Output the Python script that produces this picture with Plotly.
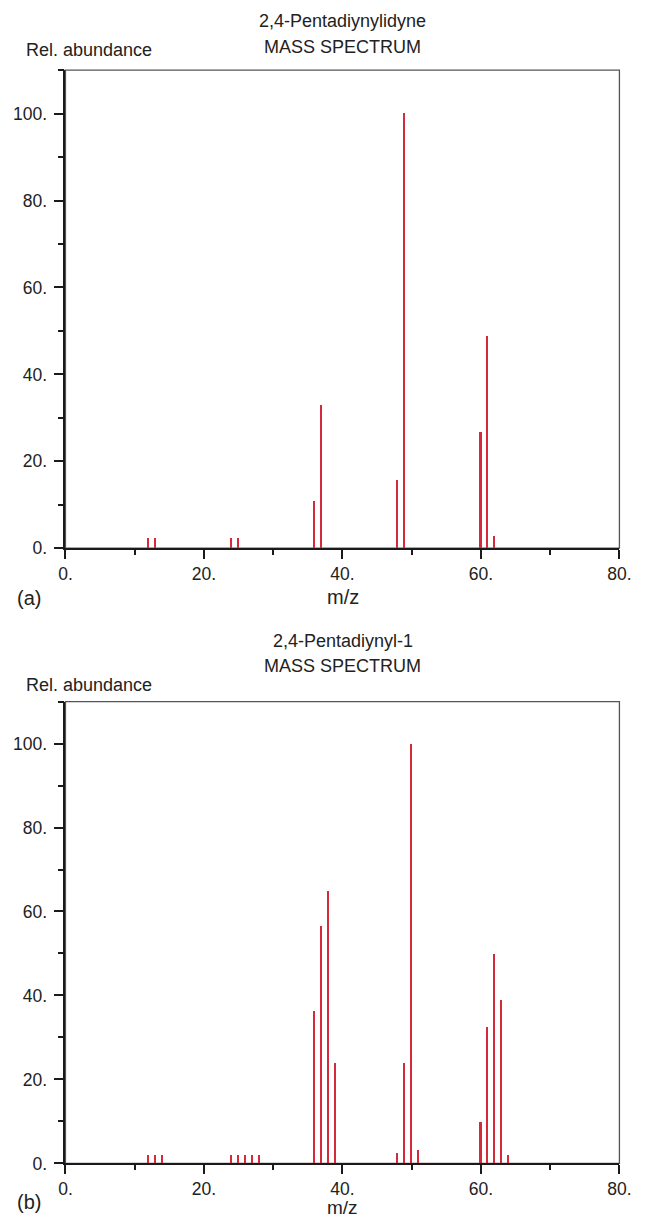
import plotly.graph_objects as go

# panel (a): 2,4-Pentadiynylidyne
mz_a = [12, 13, 24, 25, 36, 37, 48, 49, 60, 61, 62]
ab_a = [2.4, 2.4, 2.4, 2.4, 10.9, 32.9, 15.6, 100, 26.8, 48.7, 2.7]

# panel (b): 2,4-Pentadiynyl-1
mz_b = [12, 13, 14, 24, 25, 26, 27, 28, 36, 37, 38, 39, 48, 49, 50, 51, 60, 61, 62, 63, 64]
ab_b = [2.1, 2.1, 2.1, 2.1, 2.1, 2.1, 2.1, 2.1, 36.5, 56.7, 65.1, 24.1,
        2.5, 24.0, 100, 3.3, 9.9, 32.6, 49.9, 39.1, 2.1]

x_ticks = [0, 20, 40, 60, 80]
x_labels = ["0.", "20.", "40.", "60.", "80."]
y_ticks = [0, 20, 40, 60, 80, 100]
y_labels = ["0.", "20.", "40.", "60.", "80.", "100."]

red = "#d42a3c"
font = "Liberation Sans, Arial, sans-serif"

# the page body has an 8px margin, so the figure is drawn 8px smaller and
# positions below are given in window pixels
OFF = 8
W, H = 645 - OFF, 1225 - OFF


def px(x):
    return (x - OFF) / W


def py(y):
    return 1 - (y - OFF) / H


fig = go.Figure()
fig.add_trace(go.Bar(x=mz_a, y=ab_a, width=0.3, marker=dict(color=red, line_width=0),
                     xaxis="x", yaxis="y", showlegend=False))
fig.add_trace(go.Bar(x=mz_b, y=ab_b, width=0.3, marker=dict(color=red, line_width=0),
                     xaxis="x2", yaxis="y2", showlegend=False))

xdom = [px(60), px(631)]
ax_common = dict(showline=True, linecolor="#1a1a1a", linewidth=1.8, mirror=False,
                 showgrid=False, zeroline=False, ticks="outside", ticklen=10,
                 tickwidth=1.5, tickcolor="#1a1a1a", ticklabeloverflow="allow",
                 tickfont=dict(family=font, size=17.5, color="#222"))

xa = dict(ax_common, range=[0, 80], tickvals=x_ticks, ticktext=x_labels, ticklen=9,
          minor=dict(dtick=10, ticks="outside", ticklen=5, tickwidth=1.5, tickcolor="#1a1a1a"))
ya = dict(ax_common, range=[0, 110], tickvals=y_ticks, ticktext=y_labels, ticklabelstandoff=3,
          minor=dict(dtick=10, ticks="outside", ticklen=6, tickwidth=1.5, tickcolor="#1a1a1a"))

fig.update_layout(
    width=W, height=H,
    margin=dict(l=0, r=0, t=0, b=0),
    plot_bgcolor="white", paper_bgcolor="white",
    bargap=0,
    xaxis=dict(xa, domain=xdom, anchor="y"),
    yaxis=dict(ya, domain=[py(552.7), py(70.7)], anchor="x"),
    xaxis2=dict(xa, domain=xdom, anchor="y2"),
    yaxis2=dict(ya, domain=[py(1173), py(707.3)], anchor="x2"),
)

# thin grey frame on top/right like the original
for xr, yr in [("x domain", "y domain"), ("x2 domain", "y2 domain")]:
    fig.add_shape(type="rect", xref=xr, yref=yr, x0=0, x1=1, y0=0, y1=1,
                  line=dict(color="#555", width=1.3), layer="below")

labels = [
    ("2,4-Pentadiynylidyne", 346, 21, 18, "center"),
    ("MASS SPECTRUM", 346, 47, 18, "center"),
    ("Rel. abundance", 17, 50, 18, "left"),
    ("(a)", 8, 603, 20, "left"),
    ("m/z", 346, 602, 20, "center"),
    ("2,4-Pentadiynyl-1", 346, 646, 18, "center"),
    ("MASS SPECTRUM", 346, 671, 18, "center"),
    ("Rel. abundance", 17, 691, 18, "left"),
    ("(b)", 8, 1212, 20, "left"),
    ("m/z", 346, 1217, 19, "center"),
]
for text, x, y, size, anchor in labels:
    fig.add_annotation(text=text, x=px(x), y=py(y), xref="paper", yref="paper",
                       xanchor=anchor, yanchor="middle", showarrow=False,
                       font=dict(family=font, size=size, color="#222"))

fig.write_html("out.html")
